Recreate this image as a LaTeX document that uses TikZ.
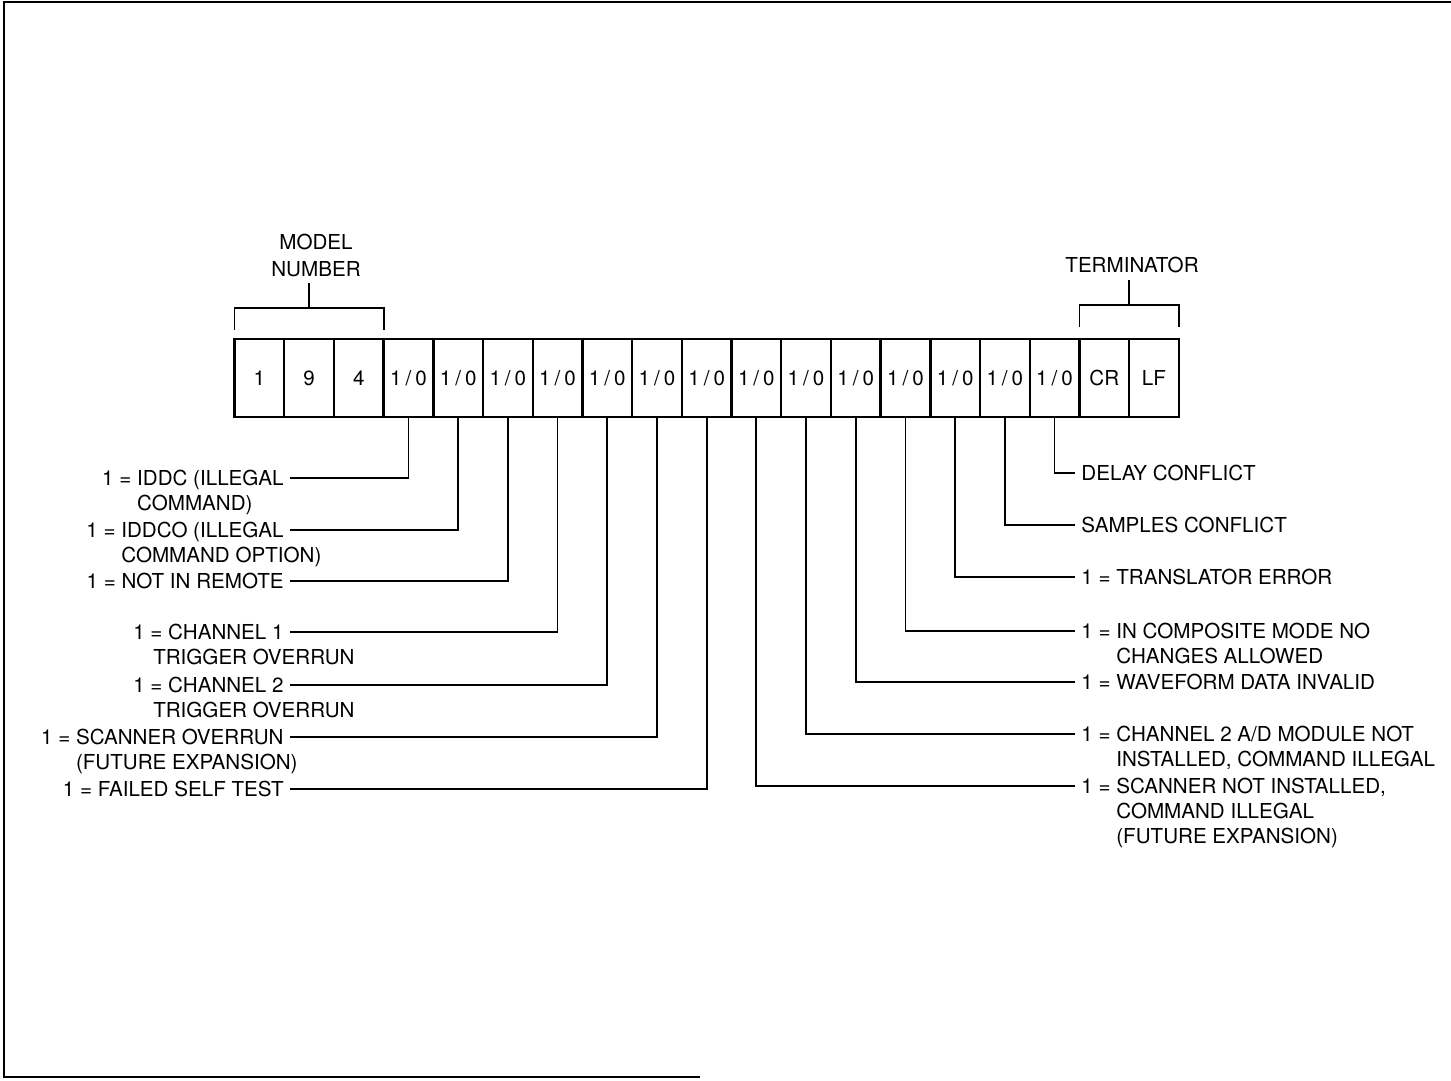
\documentclass[tikz,border=0pt]{standalone}
\usepackage{fontspec}
\setmainfont{TeX Gyre Heros}
\newcommand{\lblindent}{\phantom{1 = }}
\begin{document}
\begin{tikzpicture}[
  x=0.5pt, y=-0.5pt,
  font=\fontsize{10.3}{12.5}\selectfont,
  cell/.style = {draw, line width=1.2pt, minimum width=24.85pt,
                 minimum height=39pt, inner sep=0pt, outer sep=0pt},
  lead/.style = {line width=0.9pt},
  lbl/.style = {inner xsep=3pt, inner ysep=2.5pt, text height=7.2pt, text depth=0pt},
  ll/.style = {lbl, anchor=east},
  rl/.style = {lbl, anchor=west},
  more/.style = {lbl, anchor=north west}
]

% Page: 1451 x 1081, origin top left
\useasboundingbox (0,0) rectangle (1451,1081);
\draw [line width=1pt] (1451,2) -- (3.5,2) -- (3.5,1077) -- (700,1077);

% Cells: x from 234.5, width 49.7
\foreach \t [count=\i] in {1,9,4}
  \node [cell] (c\i) at ({234.5+49.7*(\i-0.5)},378) {\t};
\foreach \i in {4,...,17}
  \node [cell] (c\i) at ({234.5+49.7*(\i-0.5)},378) {1\hspace{2pt}/\hspace{2pt}0};
\node [cell] (c18) at (1104.25,378) {CR};
\node [cell] (c19) at (1153.95,378) {LF};

% Brackets
\node [align=center] (model) at (316,255) {MODEL\\[1pt]NUMBER};
\draw [lead] ([yshift=4.5pt]c1.north west) |- ([yshift=15.5pt]c2.north)
  -| ([yshift=4.5pt]c3.north east);
\draw [lead] ([yshift=15.5pt]c2.north) -- (c2.north |- model.south);

\node (term) at (1132,265) {TERMINATOR};
\draw [lead] ([yshift=6pt]c18.north west) |- ([yshift=17pt]c18.north east)
  -| ([yshift=6pt]c19.north east);
\draw [lead] ([yshift=17pt]c18.north east) -- (c18.north east |- term.south);

% Left labels
\node [ll] (iddc) at (290,478) {1 = IDDC (ILLEGAL};
\node [more] (iddc2) at (iddc.south west) {\lblindent COMMAND)};
\node [ll] (iddco) at (290,530) {1 = IDDCO (ILLEGAL};
\node [more] (iddco2) at (iddco.south west) {\lblindent COMMAND OPTION)};
\node [ll] (remote) at (290,581) {1 = NOT IN REMOTE};
\node [ll] (chone) at (290,632) {1 = CHANNEL 1};
\node [more] (chone2) at (chone.south west) {\hspace*{10pt}TRIGGER OVERRUN};
\node [ll] (chtwo) at (290,685) {1 = CHANNEL 2};
\node [more] (chtwo2) at (chtwo.south west) {\hspace*{10pt}TRIGGER OVERRUN};
\node [ll] (scanover) at (290,737) {1 = SCANNER OVERRUN};
\node [more] (scanover2) at (scanover.south west) {\lblindent (FUTURE EXPANSION)};
\node [ll] (selftest) at (290,789) {1 = FAILED SELF TEST};

% Right labels
\node [rl] (delay) at (1075,473) {DELAY CONFLICT};
\node [rl] (samples) at (1075,525) {SAMPLES CONFLICT};
\node [rl] (trans) at (1075,577) {1 = TRANSLATOR ERROR};
\node [rl] (comp) at (1075,631) {1 = IN COMPOSITE MODE NO};
\node [more] (comp2) at (comp.south west) {\lblindent CHANGES ALLOWED};
\node [rl] (wave) at (1075,682) {1 = WAVEFORM DATA INVALID};
\node [rl] (adnot) at (1075,734) {1 = CHANNEL 2 A/D MODULE NOT};
\node [more] (adnot2) at (adnot.south west) {\lblindent INSTALLED, COMMAND ILLEGAL};
\node [rl] (scannot) at (1075,786) {1 = SCANNER NOT INSTALLED,};
\node [more] (scannot2) at (scannot.south west) {\lblindent COMMAND ILLEGAL};
\node [more] (scannot3) at (scannot2.south west) {\lblindent (FUTURE EXPANSION)};

% Leaders
\draw [lead] (c4.south) |- (iddc.east);
\draw [lead] (c5.south) |- (iddco.east);
\draw [lead] (c6.south) |- (remote.east);
\draw [lead] (c7.south) |- (chone.east);
\draw [lead] (c8.south) |- (chtwo.east);
\draw [lead] (c9.south) |- (scanover.east);
\draw [lead] (c10.south) |- (selftest.east);
\draw [lead] (c11.south) |- (scannot.west);
\draw [lead] (c12.south) |- (adnot.west);
\draw [lead] (c13.south) |- (wave.west);
\draw [lead] (c14.south) |- (comp.west);
\draw [lead] (c15.south) |- (trans.west);
\draw [lead] (c16.south) |- (samples.west);
\draw [lead] (c17.south) |- (delay.west);

\end{tikzpicture}
\end{document}
